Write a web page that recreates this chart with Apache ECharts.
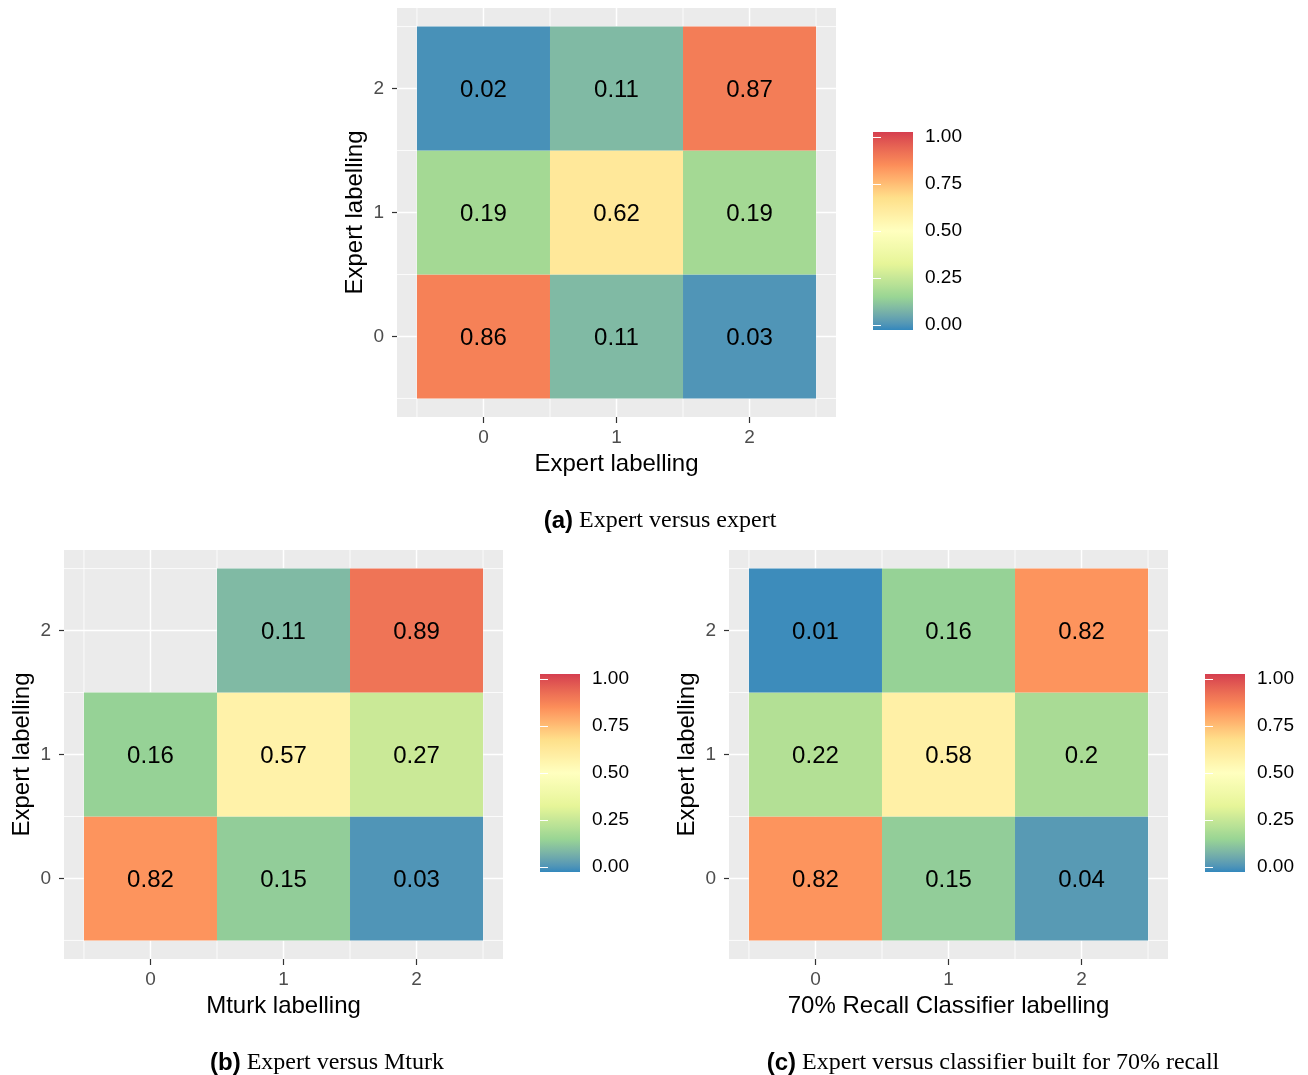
<!DOCTYPE html>
<html>
<head>
<meta charset="utf-8">
<script src="https://cdn.jsdelivr.net/npm/echarts@6/dist/echarts.min.js"></script>
<style>
html, body { margin: 0; padding: 0; background: #fff; }
#main { width: 1308px; height: 1075px; }
</style>
</head>
<body>
<div id="main"></div>
<script>
// breaks on both axes (labels 0, 1, 2), minor grid between tiles
const ticks = [0, 1, 2];
const minorBreaks = [-0.5, 0.5, 1.5, 2.5];
const limits = [-0.65, 2.65];

// rows are y = 0, 1, 2 ; columns are x = 0, 1, 2
const expertVsExpert = [[0.86, 0.11, 0.03], [0.19, 0.62, 0.19], [0.02, 0.11, 0.87]];
const expertVsMturk = [[0.82, 0.15, 0.03], [0.16, 0.57, 0.27], [null, 0.11, 0.89]];
const expertVsClassifier = [[0.82, 0.15, 0.04], [0.22, 0.58, 0.2], [0.01, 0.16, 0.82]];

const xTitles = ['Expert labelling', 'Mturk labelling', '70% Recall Classifier labelling'];
const yTitle = 'Expert labelling';
const captionTags = ['(a)', '(b)', '(c)'];
const captions = ['Expert versus expert', 'Expert versus Mturk', 'Expert versus classifier built for 70% recall'];
const legendTicks = [0, 0.25, 0.5, 0.75, 1];

// RColorBrewer Spectral, low -> high
const spectral = ['#3288BD', '#99D594', '#E6F598', '#FFFFBF', '#FEE08B', '#FC8D59', '#D53E4F'];
const sans = 'Liberation Sans, Arial, sans-serif';
const serif = 'Liberation Serif, Times New Roman, serif';

// ggplot interpolates the palette in Lab space, so build finer stops that way
function toLab(hex) {
	const lin = [1, 3, 5].map(function (k) {
		const c = parseInt(hex.slice(k, k + 2), 16) / 255;
		return c <= 0.04045 ? c / 12.92 : Math.pow((c + 0.055) / 1.055, 2.4);
	});
	const X = (0.4124564 * lin[0] + 0.3575761 * lin[1] + 0.1804375 * lin[2]) / 0.95047;
	const Y = 0.2126729 * lin[0] + 0.7151522 * lin[1] + 0.0721750 * lin[2];
	const Z = (0.0193339 * lin[0] + 0.1191920 * lin[1] + 0.9503041 * lin[2]) / 1.08883;
	const f = function (t) { return t > 0.008856 ? Math.cbrt(t) : 7.787 * t + 16 / 116; };
	return [116 * f(Y) - 16, 500 * (f(X) - f(Y)), 200 * (f(Y) - f(Z))];
}
function fromLab(lab) {
	const fy = (lab[0] + 16) / 116, fx = lab[1] / 500 + fy, fz = fy - lab[2] / 200;
	const inv = function (t) { return t * t * t > 0.008856 ? t * t * t : (t - 16 / 116) / 7.787; };
	const X = 0.95047 * inv(fx), Y = inv(fy), Z = 1.08883 * inv(fz);
	const rgb = [
		3.2404542 * X - 1.5371385 * Y - 0.4985314 * Z,
		-0.9692660 * X + 1.8760108 * Y + 0.0415560 * Z,
		0.0556434 * X - 0.2040259 * Y + 1.0572252 * Z
	].map(function (c) {
		c = c <= 0.0031308 ? 12.92 * c : 1.055 * Math.pow(c, 1 / 2.4) - 0.055;
		return Math.round(Math.max(0, Math.min(1, c)) * 255);
	});
	return 'rgb(' + rgb.join(',') + ')';
}
const labs = spectral.map(toLab);
let ramp = [];
for (let k = 0; k <= 60; k++) {
	const t = k / 60 * (labs.length - 1);
	const s = Math.min(Math.floor(t), labs.length - 2), u = t - s;
	ramp.push(fromLab(labs[s].map(function (c, j) { return c + (labs[s + 1][j] - c) * u; })));
}

const panels = [
	{ vals: expertVsExpert, left: 397, top: 8, barLeft: 873, barTop: 137, capX: 655, capY: 504 },
	{ vals: expertVsMturk, left: 64, top: 550, barLeft: 540, barTop: 679, capX: 322, capY: 1046 },
	{ vals: expertVsClassifier, left: 729, top: 550, barLeft: 1205, barTop: 679, capX: 988, capY: 1046 }
];

let myChart = echarts.init(document.getElementById('main'));

let grid = [], xAxis = [], yAxis = [], series = [], title = [];

panels.forEach(function (p, i) {
	grid.push({
		left: p.left, top: p.top, width: 439, height: 409,
		show: true, backgroundColor: '#EBEBEB', borderWidth: 0
	});
	xAxis.push({
		type: 'value', gridIndex: i, min: limits[0], max: limits[1], splitNumber: 3, z: 5,
		name: xTitles[i], nameLocation: 'middle', nameGap: 35,
		nameTextStyle: { color: '#000', fontSize: 24, fontFamily: sans },
		axisLine: { show: true, onZero: false, lineStyle: { color: '#333', opacity: 0 } },
		axisTick: { show: true, length: 6, customValues: ticks, lineStyle: { color: '#333', width: 1.2, opacity: 1 } },
		axisLabel: { customValues: ticks, color: '#4D4D4D', fontSize: 19, margin: 11, fontFamily: sans },
		splitLine: { show: false }
	});
	yAxis.push({
		type: 'value', gridIndex: i, min: limits[0], max: limits[1], splitNumber: 3, z: 5,
		name: yTitle, nameLocation: 'middle', nameGap: 30,
		nameTextStyle: { color: '#000', fontSize: 24, fontFamily: sans },
		axisLine: { show: true, onZero: false, lineStyle: { color: '#333', opacity: 0 } },
		axisTick: { show: true, length: 5, customValues: ticks, lineStyle: { color: '#333', width: 1.2, opacity: 1 } },
		axisLabel: { customValues: ticks, color: '#4D4D4D', fontSize: 19, margin: 13, padding: [2, 0, 0, 0], fontFamily: sans },
		splitLine: { show: false }
	});
	title.push({
		text: '{b|' + captionTags[i] + '}{s| ' + captions[i] + '}',
		left: p.capX, top: p.capY, textAlign: 'center',
		textStyle: {
			fontWeight: 'normal',
			rich: {
				b: { fontFamily: sans, fontWeight: 'bold', fontSize: 24, color: '#000' },
				s: { fontFamily: serif, fontWeight: 'normal', fontSize: 24, color: '#000' }
			}
		}
	});
});

// colourbar grids
panels.forEach(function (p, i) {
	grid.push({ left: p.barLeft, top: p.barTop, width: 40, height: 188 });
	xAxis.push({ type: 'value', gridIndex: 3 + i, min: 0, max: 1, show: false });
	yAxis.push({
		type: 'value', gridIndex: 3 + i, position: 'right', min: 0, max: 1, interval: 0.25, z: 5,
		axisLine: { show: false },
		axisTick: { inside: true, length: 8, lineStyle: { color: '#fff', width: 1 } },
		axisLabel: {
			formatter: function (v) { return v.toFixed(2); },
			color: '#000', fontSize: 19, margin: 12, padding: [4, 0, 0, 0], fontFamily: sans
		},
		splitLine: { show: false }
	});
	yAxis.push({
		type: 'value', gridIndex: 3 + i, position: 'left', min: 0, max: 1, interval: 0.25, z: 5,
		axisLine: { show: false },
		axisTick: { inside: true, length: 8, lineStyle: { color: '#fff', width: 1 } },
		axisLabel: { show: false },
		splitLine: { show: false }
	});
});

// panel grid lines (white, major on breaks, minor between)
panels.forEach(function (p, i) {
	let lines = [];
	ticks.forEach(function (v) { lines.push([v, 0]); lines.push([v, 2]); });
	minorBreaks.forEach(function (v) { lines.push([v, 1]); lines.push([v, 3]); });
	series.push({
		type: 'custom', xAxisIndex: i, yAxisIndex: i, z: 1, silent: true,
		data: lines,
		renderItem: function (params, api) {
			const v = api.value(0), kind = api.value(1);
			let a, b;
			if (kind < 2) {
				a = api.coord([v, limits[0]]); b = api.coord([v, limits[1]]);
			} else {
				a = api.coord([limits[0], v]); b = api.coord([limits[1], v]);
			}
			return {
				type: 'line',
				shape: { x1: a[0], y1: a[1], x2: b[0], y2: b[1] },
				style: { stroke: '#fff', lineWidth: kind % 2 === 0 ? 1.5 : 0.8 }
			};
		}
	});
});

// tiles
let tileIndex = [];
panels.forEach(function (p, i) {
	let data = [];
	p.vals.forEach(function (row, y) {
		row.forEach(function (v, x) {
			if (v != null) data.push([ticks[x], ticks[y], v]);
		});
	});
	tileIndex.push(series.length);
	series.push({
		type: 'custom', xAxisIndex: i, yAxisIndex: i, z: 3,
		encode: { x: 0, y: 1 },
		data: data,
		renderItem: function (params, api) {
			const x = api.value(0), y = api.value(1), v = api.value(2);
			const p0 = api.coord([x - 0.5, y + 0.5]);
			const p1 = api.coord([x + 0.5, y - 0.5]);
			return {
				type: 'group',
				children: [{
					type: 'rect',
					shape: { x: p0[0], y: p0[1], width: p1[0] - p0[0], height: p1[1] - p0[1] },
					style: { fill: api.visual('color') }
				}, {
					type: 'text',
					x: (p0[0] + p1[0]) / 2, y: (p0[1] + p1[1]) / 2 + 1.5,
					style: {
						text: String(v), fill: '#000', fontSize: 24, fontFamily: sans,
						align: 'center', verticalAlign: 'middle'
					}
				}]
			};
		}
	});
});

// colourbars
panels.forEach(function (p, i) {
	series.push({
		type: 'custom', xAxisIndex: 3 + i, yAxisIndex: 3 + 2 * i, z: 1, silent: true,
		data: [[legendTicks[0], legendTicks[legendTicks.length - 1]]],
		renderItem: function (params, api) {
			const lo = api.value(0), hi = api.value(1);
			const a = api.coord([0, lo]), b = api.coord([1, hi]);
			return {
				type: 'rect',
				shape: { x: a[0], y: b[1] - 5, width: b[0] - a[0], height: a[1] - b[1] + 10 },
				style: {
					fill: new echarts.graphic.LinearGradient(0, 1, 0, 0, ramp.map(function (c, k) {
						return { offset: k / (ramp.length - 1), color: c };
					}))
				}
			};
		}
	});
});

let option = {
	backgroundColor: '#fff',
	animation: false,
	title: title,
	grid: grid,
	xAxis: xAxis,
	yAxis: yAxis,
	visualMap: [{
		type: 'continuous', show: false, min: 0, max: 1, dimension: 2,
		seriesIndex: tileIndex,
		inRange: { color: ramp }
	}],
	series: series
};

myChart.setOption(option);
</script>
</body>
</html>
